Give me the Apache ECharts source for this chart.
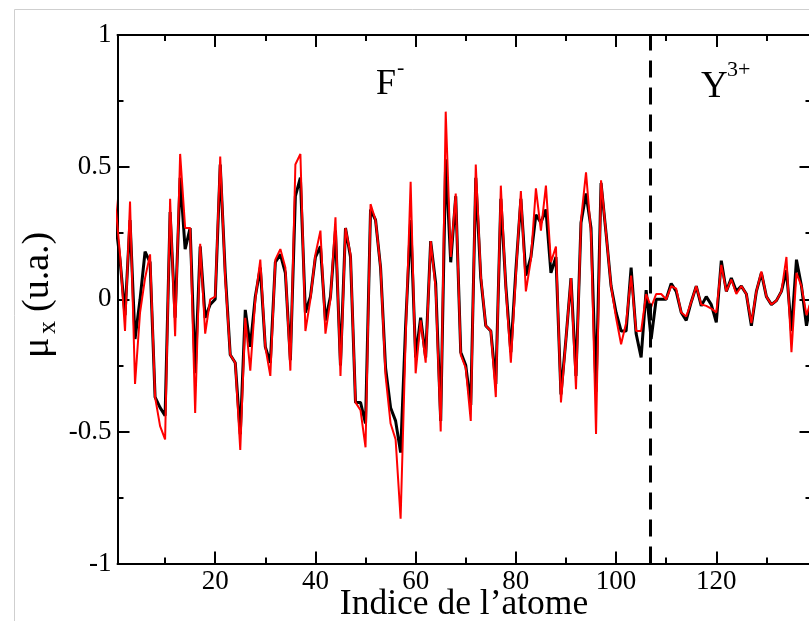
<!DOCTYPE html>
<html><head><meta charset="utf-8">
<script src="https://cdn.jsdelivr.net/npm/echarts@6/dist/echarts.min.js"></script>
<style>html,body{margin:0;padding:0;background:#fff}#c{width:809px;height:621px}</style>
</head><body><div id="c"></div>
<script>
const atomIndex = [0,1,2,3,4,5,6,7,8,9,10,11,12,13,14,15,16,17,18,19,20,21,22,23,24,25,26,27,28,29,30,31,32,33,34,35,36,37,38,39,40,41,42,43,44,45,46,47,48,49,50,51,52,53,54,55,56,57,58,59,60,61,62,63,64,65,66,67,68,69,70,71,72,73,74,75,76,77,78,79,80,81,82,83,84,85,86,87,88,89,90,91,92,93,94,95,96,97,98,99,100,101,102,103,104,105,106,107,108,109,110,111,112,113,114,115,116,117,118,119,120,121,122,123,124,125,126,127,128,129,130,131,132,133,134,135,136,137,138,139];
const muBlack = [0.31,0.15,-0.06,0.30,-0.15,0.00,0.18,0.14,-0.37,-0.41,
  -0.44,0.33,-0.07,0.46,0.19,0.27,-0.28,0.20,-0.07,-0.02,
  0.00,0.51,0.10,-0.21,-0.24,-0.51,-0.04,-0.18,0.01,0.12,
  -0.18,-0.24,0.14,0.17,0.10,-0.23,0.39,0.46,-0.05,0.01,
  0.16,0.20,-0.08,0.01,0.26,-0.25,0.27,0.16,-0.39,-0.39,
  -0.47,0.34,0.30,0.12,-0.26,-0.41,-0.46,-0.58,-0.10,0.30,
  -0.22,-0.07,-0.22,0.22,0.06,-0.46,0.53,0.14,0.39,-0.20,
  -0.25,-0.40,0.46,0.08,-0.10,-0.12,-0.32,0.38,0.05,-0.20,
  0.11,0.38,0.09,0.16,0.32,0.29,0.34,0.10,0.16,-0.36,
  -0.15,0.08,-0.29,0.29,0.40,0.27,-0.35,0.44,0.25,0.05,
  -0.05,-0.12,-0.12,0.12,-0.13,-0.22,0.035,-0.15,0.00,0.00,
  0.00,0.06,0.03,-0.05,-0.08,-0.01,0.05,-0.025,0.01,-0.02,
  -0.087,0.146,0.03,0.08,0.03,0.05,0.02,-0.10,0.03,0.10,
  0.01,-0.02,-0.005,0.03,0.11,-0.12,0.15,0.05,-0.10,0.00];
const muRed = [0.38,0.17,-0.12,0.37,-0.32,-0.05,0.08,0.17,-0.37,-0.48,
  -0.53,0.38,-0.14,0.55,0.27,0.27,-0.43,0.21,-0.13,0.00,
  0.01,0.54,0.08,-0.21,-0.24,-0.57,-0.07,-0.27,0.00,0.15,
  -0.18,-0.29,0.15,0.19,0.12,-0.27,0.51,0.55,-0.12,0.00,
  0.17,0.26,-0.13,0.00,0.31,-0.29,0.27,0.17,-0.39,-0.42,
  -0.56,0.36,0.30,0.12,-0.29,-0.47,-0.53,-0.83,-0.15,0.445,
  -0.28,-0.08,-0.24,0.22,0.04,-0.50,0.71,0.16,0.40,-0.21,
  -0.26,-0.46,0.51,0.09,-0.10,-0.12,-0.37,0.43,0.04,-0.24,
  0.09,0.41,0.03,0.15,0.42,0.26,0.43,0.14,0.20,-0.39,
  -0.15,0.08,-0.34,0.30,0.48,0.25,-0.51,0.45,0.25,0.05,
  -0.07,-0.17,-0.09,0.09,-0.12,-0.12,0.02,-0.03,0.02,0.02,
  0.00,0.05,0.04,-0.05,-0.065,-0.01,0.05,-0.02,-0.025,-0.035,
  -0.05,0.13,0.03,0.075,0.02,0.05,0.02,-0.09,0.03,0.105,
  0.01,-0.02,-0.005,0.03,0.16,-0.20,0.10,0.05,-0.06,0.00];
const xMajorTicks = [20,40,60,80,100,120];
const xMinorTicks = [10,30,50,70,90,110,130];
const boundaryIndex = 106.8;
const xTitle = 'Indice de l\u2019atome';
const yTitleSymbol = '\u03bc';
const yTitleSub = 'x';
const yTitleUnit = '(u.a.)';
const ionF = 'F', ionFCharge = '-';
const ionY = 'Y', ionYCharge = '3+';

const SERIF = "'Liberation Serif','Times New Roman',serif";
const chart = echarts.init(document.getElementById('c'), null, {renderer:'canvas'});
const gridRect = {left:117.5, top:35, width:694, height:528.6, outerBoundsMode:'none'};
const tickStyle = {color:'#000', width:2};
function xAx(grid, pos, ticks, len, showLine, showLabel){
  return {gridIndex:grid, type:'value', min:0.5, max:139, position:pos,
    axisLine:{show:showLine, onZero:false, lineStyle:{color:'#000', width:2}},
    axisTick:{show:true, inside:true, length:len, lineStyle:tickStyle, customValues:ticks},
    axisLabel:{show:showLabel, customValues:ticks, color:'#000', fontFamily:SERIF, fontSize:27, margin:5},
    splitLine:{show:false}};
}
function yAx(pos, showLabel){
  return {gridIndex:0, type:'value', min:-1, max:1, interval:0.5, position:pos,
    axisLine:{show:true, onZero:false, lineStyle:{color:'#000', width:2}},
    axisTick:{show:true, inside:true, length:12, lineStyle:tickStyle},
    minorTick:{show:true, splitNumber:2, length:6, lineStyle:tickStyle},
    axisLabel:{show:showLabel, color:'#000', fontFamily:SERIF, fontSize:27, margin:6},
    splitLine:{show:false}, minorSplitLine:{show:false}};
}
function rotText(txt, x, y, size){
  return {type:'text', x:x, y:y, rotation:Math.PI/2, silent:true,
    style:{text:txt, fill:'#000', font:size+"px "+SERIF, textAlign:'left', textVerticalAlign:'middle'}};
}
const option = {
  animation:false,
  backgroundColor:'#fff',
  grid:[Object.assign({}, gridRect), Object.assign({}, gridRect)],
  xAxis:[
    xAx(0,'bottom',xMajorTicks,12,true,true),
    xAx(0,'top',xMajorTicks,12,true,false),
    xAx(1,'bottom',xMinorTicks,6,false,false),
    xAx(1,'top',xMinorTicks,6,false,false)
  ],
  yAxis:[
    yAx('left',true),
    yAx('right',false),
    {gridIndex:1, type:'value', min:-1, max:1, show:false}
  ],
  series:[
    {type:'line', xAxisIndex:0, yAxisIndex:0, symbol:'none', z:2,
     data: atomIndex.map((x,i)=>[x, muBlack[i]]),
     lineStyle:{color:'#000', width:3}, itemStyle:{color:'#000'},
     emphasis:{disabled:true},
     markLine:{silent:true, symbol:['none','none'], label:{show:false},
       lineStyle:{color:'#000', width:3, type:[17,10]},
       emphasis:{disabled:true},
       data:[{xAxis:boundaryIndex}]}},
    {type:'line', xAxisIndex:0, yAxisIndex:0, symbol:'none', z:3,
     data: atomIndex.map((x,i)=>[x, muRed[i]]),
     lineStyle:{color:'#ff0000', width:2}, itemStyle:{color:'#ff0000'},
     emphasis:{disabled:true}}
  ],
  graphic:[
    {type:'rect', silent:true, shape:{x:14.5, y:9.5, width:1000, height:1000},
     style:{fill:'none', stroke:'#cfcfcf', lineWidth:1}},
    {type:'text', x:464, y:605, silent:true,
     style:{text:xTitle, fill:'#000', font:"35.5px "+SERIF, textAlign:'center', textVerticalAlign:'middle'}},
    rotText(yTitleSymbol, 38, 358, 38),
    rotText(yTitleSub, 48, 334, 26),
    rotText(yTitleUnit, 38, 312, 38),
    {type:'text', x:376, y:85, silent:true, style:{text:ionF, fill:'#000', font:"36px "+SERIF, textAlign:'left', textVerticalAlign:'middle'}},
    {type:'text', x:397, y:68, silent:true, style:{text:ionFCharge, fill:'#000', font:"22px "+SERIF, textAlign:'left', textVerticalAlign:'middle'}},
    {type:'text', x:701, y:87.5, silent:true, style:{text:ionY, fill:'#000', font:"37px "+SERIF, textAlign:'left', textVerticalAlign:'middle'}},
    {type:'text', x:727, y:70.5, silent:true, style:{text:ionYCharge, fill:'#000', font:"22px "+SERIF, textAlign:'left', textVerticalAlign:'middle'}}
  ]
};
chart.setOption(option);
</script>
</body></html>
